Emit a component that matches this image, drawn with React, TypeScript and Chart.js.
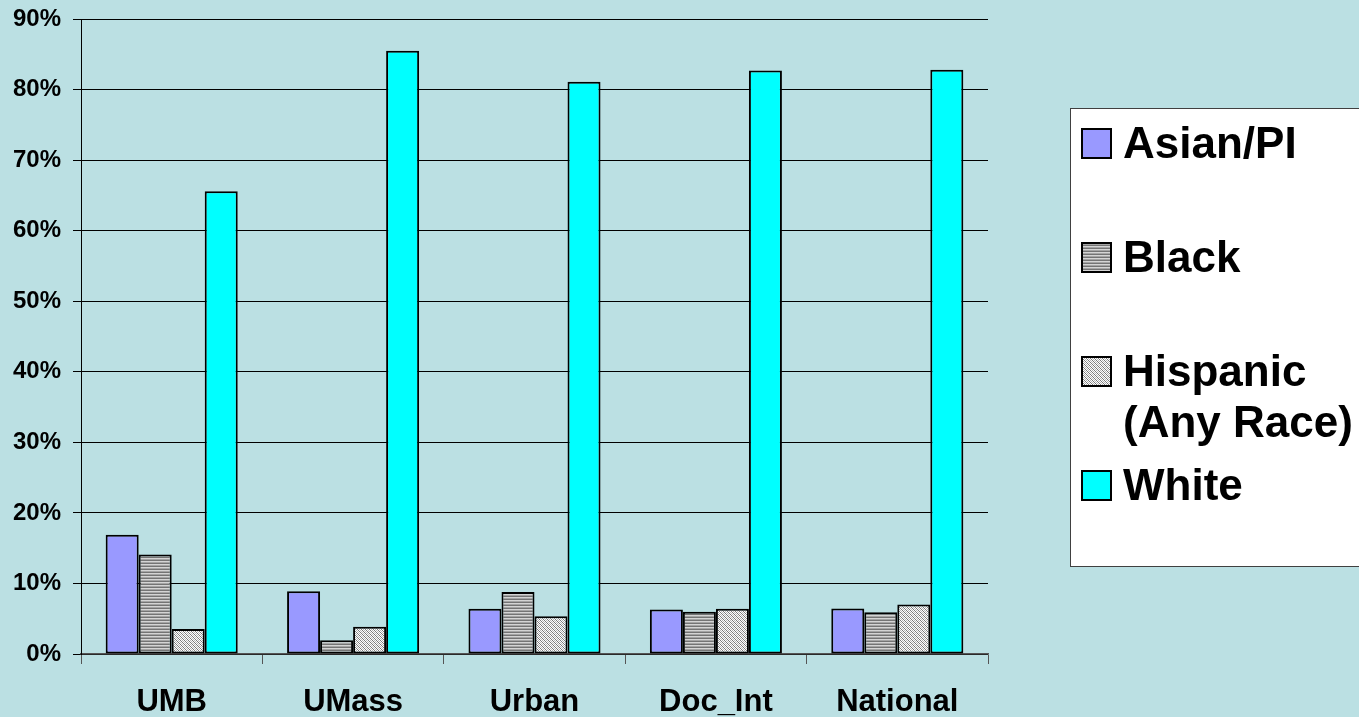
import React, { useEffect, useRef } from "react";
import { Chart, registerables } from "chart.js";

Chart.register(...registerables);

const categories = ["UMB", "UMass", "Urban", "Doc_Int", "National"];
const seriesNames = ["Asian/PI", "Black", "Hispanic\n(Any Race)", "White"];
const asianValues = [16.9, 8.9, 6.4, 6.3, 6.45];
const blackValues = [14.1, 1.95, 8.8, 6.0, 5.9];
const hispanicValues = [3.55, 3.85, 5.35, 6.4, 7.0];
const whiteValues = [65.6, 85.5, 81.1, 82.7, 82.8];
const yTicks = [0, 10, 20, 30, 40, 50, 60, 70, 80, 90];

const FONT = "'Liberation Sans', Arial, sans-serif";

function makeStripePattern(): CanvasPattern | string {
  const c = document.createElement("canvas");
  c.width = 4;
  c.height = 3;
  const ctx = c.getContext("2d");
  if (!ctx) return "#a0a0a0";
  const rows = ["#d4d4d4", "#a4a4a4", "#747474"];
  rows.forEach((col, i) => {
    ctx.fillStyle = col;
    ctx.fillRect(0, i, 4, 1);
  });
  return ctx.createPattern(c, "repeat") || "#a0a0a0";
}

function makeHatchPattern(): CanvasPattern | string {
  const c = document.createElement("canvas");
  c.width = 4;
  c.height = 4;
  const ctx = c.getContext("2d");
  if (!ctx) return "#d0d0d0";
  for (let x = 0; x < 4; x++) {
    for (let y = 0; y < 4; y++) {
      let col = "#ffffff";
      if ((x + y) % 2 === 0) col = (x - y + 4) % 4 === 0 ? "#7a7a7a" : "#b4b4b4";
      ctx.fillStyle = col;
      ctx.fillRect(x, y, 1, 1);
    }
  }
  return ctx.createPattern(c, "repeat") || "#d0d0d0";
}

export default function App() {
  const ref = useRef<HTMLCanvasElement | null>(null);

  useEffect(() => {
    if (!ref.current) return;
    const stripe = makeStripePattern();
    const hatch = makeHatchPattern();
    const fills: any[] = ["#9999FF", stripe, hatch, "#00FFFF"];
    const values = [asianValues, blackValues, hispanicValues, whiteValues];

    const legendPlugin = {
      id: "customLegend",
      afterDraw(chart: any) {
        const ctx = chart.ctx as CanvasRenderingContext2D;
        ctx.save();
        const bx = 1070.5;
        const by = 108.5;
        ctx.fillStyle = "#ffffff";
        ctx.fillRect(bx, by, 300, 458);
        ctx.strokeStyle = "#404040";
        ctx.lineWidth = 1;
        ctx.strokeRect(bx, by, 300, 458);
        ctx.font = `bold 44px ${FONT}`;
        ctx.textBaseline = "middle";
        ctx.textAlign = "left";
        chart.data.datasets.forEach((ds: any, i: number) => {
          const cy = 143.5 + i * 114;
          ctx.fillStyle = ds.backgroundColor;
          ctx.fillRect(1082, cy - 14.5, 29, 29);
          ctx.strokeStyle = "#000";
          ctx.lineWidth = 2;
          ctx.strokeRect(1082, cy - 14.5, 29, 29);
          ctx.fillStyle = "#000";
          const lines = String(ds.label).split("\n");
          lines.forEach((ln, j) => {
            ctx.fillText(ln, 1123, cy + 2 + j * 51);
          });
        });
        ctx.restore();
      },
    };

    const chart = new Chart(ref.current, {
      type: "bar",
      data: {
        labels: categories,
        datasets: seriesNames.map((name, i) => ({
          label: name,
          data: values[i],
          backgroundColor: fills[i],
          borderColor: "#000",
          borderWidth: 2,
          borderSkipped: false,
          categoryPercentage: 0.728,
          barPercentage: 1.0,
        })),
      },
      options: {
        responsive: false,
        animation: false,
        layout: { padding: { top: 0, right: 371, left: 0, bottom: 0 } },
        plugins: {
          legend: { display: false },
          tooltip: { enabled: false },
        },
        scales: {
          x: {
            afterFit(scale: any) {
              scale.height = 63;
            },
            grid: {
              offset: true,
              drawOnChartArea: false,
              drawTicks: true,
              tickLength: 10,
              color: "#555",
            },
            border: { color: "#555", width: 1.5 },
            ticks: {
              color: "#000",
              padding: 20,
              font: { family: FONT, size: 31, weight: "bold" },
            },
          },
          y: {
            min: 0,
            max: 90,
            afterFit(scale: any) {
              scale.width = 81;
              scale.paddingTop = 19;
            },
            afterBuildTicks(scale: any) {
              scale.ticks = yTicks.map((v) => ({ value: v }));
            },
            grid: {
              color: "#000",
              lineWidth: 1,
              tickLength: 8,
              drawTicks: true,
            },
            border: { color: "#000", width: 1 },
            ticks: {
              color: "#000",
              padding: 12,
              font: { family: FONT, size: 24, weight: "bold" },
              callback: (v: any) => `${v}%`,
            },
          },
        },
      },
      plugins: [legendPlugin],
    });
    return () => chart.destroy();
  }, []);

  return (
    <div
      style={{
        position: "absolute",
        left: 0,
        top: 0,
        width: 1359,
        height: 717,
        background: "#BBE0E3",
        overflow: "hidden",
      }}
    >
      <canvas ref={ref} width={1359} height={717} style={{ display: "block" }} />
    </div>
  );
}
